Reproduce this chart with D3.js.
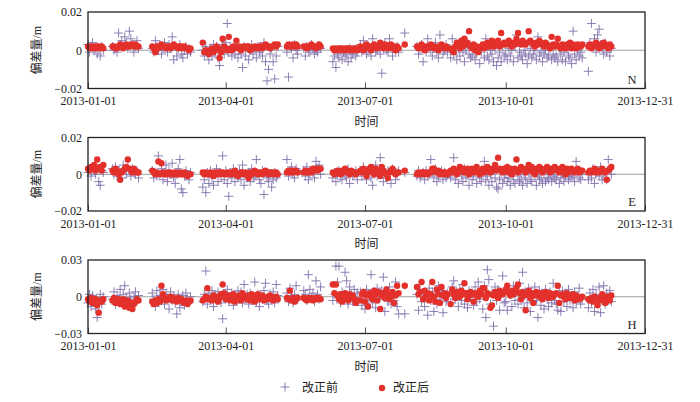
<!DOCTYPE html>
<html>
<head>
<meta charset="utf-8">
<script src="https://cdn.jsdelivr.net/npm/d3@7"></script>
<style>
  body { margin: 0; background: #fff; }
  text { font-family: "Liberation Serif", "Times New Roman", "Noto Sans CJK SC", serif; fill: #222; }
</style>
</head>
<body>
<div class="canvas"></div>
<script>
// observation days (day of year, 0 = 2013-01-01) where each segment starts
const segStarts = [0, 16, 42, 75, 130, 141, 160, 178, 207, 215, 237, 327];

// values in mm, one per day inside each segment
const nBefore = [
  [3,-1,2,4,0,1,-2,1,-3,2,0],
  [2,0,1,-1,9,3,5,2,7,4,1,10,6,3,-1,2,5,1],
  [1,-1,5,2,0,3,-2,1,4,2,-1,3,1,7,-5,2,-3,1,3,-2,-4,0,2,-2,1,-1],
  [0,-3,2,-2,-5,1,-3,3,-1,2,-4,-8,1,3,-2,4,14,-1,2,-3,1,-2,3,-4,0,-2,-9,2,-3,1,-5,0,3,-2,1,-4,2,-1,0,-3,4,-6,-16,-10,-2,1,-6,-15,-3,2],
  [-1,-14,2,1,-4,3,0,-2],
  [1,-3,2,0,-1,3,1,-2,0,-1,2,1],
  [-6,-3,-9,-2,-4,0,-5,-1,-3,-2,-6,1,-4,-2,0,-3,-1],
  [3,-1,5,2,-2,0,1,-3,6,2,-1,0,3,-2,-12,1,4,0,-1,6,2,-3,1,0,2,-1],
  [9],
  [2,-2,0,3,-6,1,-1,6,2,0,-3,1,4,-1,-4,8,2,-2,0,3,-1],
  [-4,6,-2,0,-5,1,-3,2,-1,-6,0,3,-2,-4,
   -3,1,-5,-2,0,-7,-1,2,-4,6,-3,-5,0,-2,-6,1,-8,-4,-1,-6,2,-3,
   -2,-5,1,-3,0,-6,2,8,-4,-1,-3,-5,0,-2,-7,-3,1,-4,-2,0,-5,7,-3,-1,-6,-2,0,-4,-3,1,-5,-2,-4,
   -3,-6,1,-2,-5,-1,-6,0,-3,-4,-7,10,-2,-5,0,-3,-1,-4],
  [-11,4,14,2,6,-1,8,11,3,1,-2,4,-1,2,-3,1]
];
const nAfter = [
  [2,1,2,1,2,1,2,2,1,2,1],
  [2,2,1,1,2,3,2,1,2,3,2,2,3,3,2,3,2,2],
  [2,1,-1,2,1,2,3,2,2,1,2,2,1,2,3,2,2,1,2,2,1,2,1,1,0,1],
  [4,-1,0,-1,-2,0,1,-1,0,2,1,-4,-1,6,2,1,0,7,1,0,2,1,5,1,2,0,1,2,1,2,2,0,1,1,2,1,1,2,2,1,2,3,2,2,1,2,2,3,2,3],
  [2,3,2,2,3,2,3,2],
  [2,2,1,2,2,3,2,2,1,2,3,2],
  [1,0,1,0,1,1,0,1,0,1,1,0,1,0,1,1,0],
  [2,1,0,2,3,1,2,0,1,3,2,1,2,4,2,1,3,2,1,2,3,1,2,0,2,1],
  [3],
  [2,1,2,3,1,0,2,1,2,3,2,1,2,1,0,2,3,2,1,2,1],
  [1,0,-1,2,4,3,1,5,2,6,3,4,10,2,
   1,3,0,2,-1,1,2,3,1,2,4,2,3,5,2,4,3,5,2,9,3,4,
   3,4,5,3,2,4,3,6,9,4,3,5,4,3,4,10,5,4,3,2,4,3,5,4,3,2,4,3,2,1,7,3,2,
   3,6,2,1,3,2,1,3,2,4,1,3,2,1,3,2,2,3],
  [2,3,1,2,3,4,2,1,3,2,4,3,2,1,3,2]
];
const eBefore = [
  [1,3,-1,4,2,0,3,-4,-6,2,1],
  [3,0,4,-1,2,1,-2,5,3,0,4,2,-1,3,1,0,2,-2],
  [2,-2,1,-1,10,0,3,-3,1,5,-4,2,0,6,-2,-5,1,3,8,-8,-10,-1,2,0,-3,1],
  [-7,-3,-10,1,-5,2,-2,-6,0,3,-4,1,-1,10,-3,2,-5,-12,0,-2,3,-4,1,-1,2,-3,5,-6,0,-2,1,-4,3,-2,-1,8,0,-3,-5,2,-11,1,-2,-4,0,-7,-3,1,-2,0],
  [8,-1,2,4,0,-2,3,1],
  [2,-1,4,-3,0,2,1,-2,7,3,5,0],
  [-2,1,-4,0,2,-1,-3,1,0,-2,3,-5,1,-1,0,2,-3],
  [2,-1,4,0,-3,1,3,-2,-6,2,5,-1,0,9,3,-4,1,-2,2,0,-5,3,1,-3,0,2],
  [1],
  [-1,2,-2,0,1,-3,2,-1,0,8,1,-2,3,-4,-1,0,2,-3,1,-2,0],
  [-2,1,9,-3,0,-5,2,-1,-4,3,-2,0,-6,1,
   -3,-1,2,-5,0,-2,-4,1,7,-3,-1,-6,0,-4,2,-2,-7,-8,-3,1,-5,-2,
   0,-4,-2,-6,1,-3,-5,2,-1,-4,-3,-6,0,-2,-5,1,-3,-4,2,-1,-6,0,-3,-2,-5,1,-4,-2,-3,0,-4,-1,-2,
   -3,1,-5,-2,0,-4,-1,2,-3,-2,0,-1,-4,7,1,-2,-3,0],
  [-3,1,-2,3,-5,0,2,-1,4,-3,1,-2,-3,8,3,0]
];
const eAfter = [
  [3,2,4,3,5,2,8,3,4,2,5],
  [2,1,3,2,0,-3,1,2,3,4,8,3,2,1,3,2,1,1],
  [2,1,0,1,7,0,6,1,0,0,1,0,1,0,0,1,0,0,1,0,0,1,0,-1,0,0],
  [1,0,1,0,0,1,0,-1,1,0,1,0,1,1,0,0,1,0,1,0,1,2,0,-1,0,1,1,0,1,0,-2,1,0,1,2,1,0,1,1,0,1,2,1,0,1,1,0,1,1,0],
  [1,2,1,2,1,2,2,1],
  [1,2,1,1,2,1,3,2,3,2,3,3],
  [1,0,1,2,1,0,2,1,3,2,1,0,2,1,1,0,1],
  [2,1,3,2,-1,1,3,4,2,0,3,1,2,-1,4,2,1,0,-2,1,2,3,1,0,1,1],
  [2],
  [0,1,0,1,1,0,1,0,1,1,3,3,2,1,2,0,1,1,0,1,0],
  [2,1,3,2,0,1,4,2,3,1,2,3,0,2,
   3,1,2,4,1,0,2,3,1,2,4,3,1,2,3,5,2,9,3,2,1,3,
   2,4,1,3,0,2,3,8,1,2,4,3,2,1,3,5,2,4,1,0,3,2,4,3,1,2,3,4,2,1,3,2,4,
   3,2,1,3,4,2,0,3,1,2,3,2,1,2,3,1,2,2],
  [1,2,1,2,3,1,2,1,2,3,2,1,-3,2,3,4]
];
const hBefore = [
  [-5,2,-8,1,-3,-10,-17,-4,2,-6,0],
  [-2,4,-6,1,-3,6,-4,2,9,-1,-5,3,-2,-7,0,4,-3,1],
  [3,-2,-8,5,-4,1,-3,6,-6,2,-1,-10,4,-3,0,-5,-14,2,-9,-4,1,-7,3,-2,-5,0],
  [-4,2,21,-6,3,-2,5,-8,1,-3,4,-1,-5,-18,2,-2,6,-4,0,3,-7,1,-3,5,-2,4,-5,10,-1,2,-6,3,-3,0,12,-4,2,-8,1,-2,5,11,-3,-6,2,-1,4,-5,10,1],
  [3,-4,7,1,-5,2,9,-2],
  [5,2,-3,18,6,-1,3,-4,13,2,-2,8],
  [-3,2,25,12,25,-5,4,-2,20,13,-6,8,2,-4,6,-1,3],
  [4,-7,2,-10,6,-3,1,18,-5,3,-9,7,-2,0,5,16,-12,2,-4,8,-6,1,-3,12,-8,-14],
  [-14],
  [2,-11,6,-4,3,-8,1,-15,7,-3,4,-12,2,-6,9,-2,5,-13,0,-4,3],
  [-5,8,13,-2,4,-8,6,-3,10,-6,2,-9,5,-1,
   3,-7,8,-4,12,-2,5,-10,9,-17,22,14,-6,3,-24,8,-3,6,-11,2,17,-5,
   -4,-11,6,2,-8,9,-3,4,-6,11,-2,20,-9,3,-5,7,-12,1,-4,8,-3,-17,5,-7,2,-10,6,-2,-8,4,-5,11,-3,
   -6,-11,3,-12,5,-4,2,-8,6,-3,1,-9,4,-5,0,7,-6,-2],
  [-9,3,-5,6,-12,2,-4,8,-13,1,9,-6,3,-2,5,-4]
];
const hAfter = [
  [-2,-4,-1,-5,-3,-2,-7,-13,-3,-4,-2],
  [-3,-1,-5,-4,-2,-6,-3,-2,-8,-4,-3,-9,-5,-10,-6,-4,-2,-3],
  [-4,-6,-3,-5,-2,-4,9,2,-1,-3,-2,-1,0,-3,-1,-2,-4,-1,-3,-2,-4,-5,-3,-6,-4,-3],
  [-3,-2,0,7,-2,-1,-3,1,-2,0,-4,-1,2,10,3,-2,0,1,-3,-1,2,-4,0,-2,1,-3,3,-1,0,-2,1,-3,2,0,-4,-1,2,-2,0,1,-3,-1,-2,0,1,-2,-3,-1,0,-2],
  [-1,-2,5,-3,-1,-4,-2,-1],
  [-1,-2,-3,-1,-2,-1,-3,-2,-1,-2,-1,-2],
  [10,3,10,1,-2,2,-4,0,3,1,-3,2,-1,1,-2,-5,-3],
  [-3,2,4,-4,1,-8,3,0,-2,5,2,-3,4,-10,1,3,-1,6,2,-2,0,4,-5,1,9,3],
  [9],
  [8,2,4,12,-2,5,1,3,-3,2,12,0,-4,6,2,-5,8,1,3,-1,2],
  [-6,6,2,-1,4,3,0,5,2,11,3,-2,1,4,
   2,-4,3,1,0,5,2,7,7,-1,3,2,-9,-7,1,4,2,-1,5,3,2,4,
   6,9,3,1,5,2,4,7,10,3,-2,4,1,-11,2,5,-1,3,-5,1,4,2,0,3,-2,1,4,2,-1,3,1,0,2,
   3,9,-5,1,2,0,-2,3,1,-1,0,2,-3,1,0,-2,-1,0],
  [-2,-3,-1,-4,0,-2,-7,-1,-3,2,-2,-5,0,-1,-3,1]
];

const dateTicks = ['2013-01-01', '2013-04-01', '2013-07-01', '2013-10-01', '2013-12-31'];
const ticksNE = [-0.02, 0, 0.02];
const ticksH = [-0.03, 0, 0.03];
const panelNames = ['N', 'E', 'H'];

const parse = d3.timeParse('%Y-%m-%d');
const startDate = parse('2013-01-01');

const svg = d3.select('.canvas')
    .append('svg')
    .attr('width', 700)
    .attr('height', 402)

const x = d3.scaleTime()
    .domain([parse(dateTicks[0]), parse(dateTicks[dateTicks.length - 1])])
    .range([88, 645])

const panels = [
    { name: panelNames[0], top: 12, bottom: 88.5, ticks: ticksNE, before: nBefore, after: nAfter },
    { name: panelNames[1], top: 137.5, bottom: 211, ticks: ticksNE, before: eBefore, after: eAfter },
    { name: panelNames[2], top: 260, bottom: 333.5, ticks: ticksH, before: hBefore, after: hAfter }
];

const toPoints = (series) => series.flatMap((seg, i) =>
    seg.map((v, j) => ({ date: d3.timeDay.offset(startDate, segStarts[i] + j), value: v / 1000 })));

const fmt = d => d === 0 ? '0' : (d < 0 ? '\u2212' : '') + Math.abs(d).toFixed(2);

const crossPath = (cx, cy, s) => `M${cx - s},${cy}H${cx + s}M${cx},${cy - s}V${cy + s}`;

panels.forEach(p => {
    const lim = d3.max(p.ticks);
    const y = d3.scaleLinear().domain([-lim, lim]).range([p.bottom, p.top]);
    const g = svg.append('g');

    // zero line
    g.append('line')
        .attr('x1', x.range()[0]).attr('x2', x.range()[1])
        .attr('y1', y(0)).attr('y2', y(0))
        .attr('stroke', '#a0a0a0').attr('stroke-width', 1)

    // before correction: crosses
    g.append('g').selectAll('path')
        .data(toPoints(p.before))
        .enter().append('path')
            .attr('d', d => crossPath(x(d.date), y(d.value), 4.5))
            .attr('stroke', '#8070ab')
            .attr('stroke-width', 0.9)
            .attr('fill', 'none')

    // after correction: red dots
    g.append('g').selectAll('circle')
        .data(toPoints(p.after))
        .enter().append('circle')
            .attr('cx', d => x(d.date))
            .attr('cy', d => y(d.value))
            .attr('r', 3.2)
            .attr('fill', '#e3302b')

    // x axis, ticks inside the frame
    const xAxis = d3.axisBottom(x)
        .tickValues(dateTicks.map(parse))
        .tickSize(-6)
        .tickPadding(8)
        .tickFormat(d3.timeFormat('%Y-%m-%d'))
    const xg = g.append('g')
        .attr('transform', `translate(0, ${p.bottom})`)
        .call(xAxis)
    xg.select('.domain').remove();
    xg.selectAll('line').attr('stroke', '#555');
    xg.selectAll('text').attr('font-size', 12).attr('fill', '#222')
        .style('font-family', '"Liberation Serif", "Times New Roman", serif');

    // y axis
    const yAxis = d3.axisLeft(y)
        .tickValues(p.ticks)
        .tickSize(0)
        .tickPadding(6)
        .tickFormat(fmt)
    const yg = g.append('g')
        .attr('transform', `translate(${x.range()[0]}, 0)`)
        .call(yAxis)
    yg.select('.domain').remove();
    yg.selectAll('text').attr('font-size', 12).attr('fill', '#222')
        .style('font-family', '"Liberation Serif", "Times New Roman", serif');

    // frame
    g.append('rect')
        .attr('x', x.range()[0]).attr('y', p.top)
        .attr('width', x.range()[1] - x.range()[0])
        .attr('height', p.bottom - p.top)
        .attr('fill', 'none')
        .attr('stroke', '#222')
        .attr('stroke-width', 1.3)

    // component letter
    g.append('text')
        .attr('x', x.range()[1] - 13).attr('y', p.bottom - 5)
        .attr('text-anchor', 'middle')
        .attr('font-size', 12.5)
        .text(p.name)

    // y title
    g.append('text')
        .attr('transform', `translate(41, ${(p.top + p.bottom) / 2}) rotate(-90)`)
        .attr('text-anchor', 'middle')
        .attr('font-size', 12)
        .text('偏差量/m')

    // x title
    g.append('text')
        .attr('x', (x.range()[0] + x.range()[1]) / 2)
        .attr('y', p.bottom + 37)
        .attr('text-anchor', 'middle')
        .attr('font-size', 12)
        .text('时间')
})

// legend
const legend = svg.append('g')
legend.append('path')
    .attr('d', crossPath(285, 387, 4.5))
    .attr('stroke', '#8070ab').attr('stroke-width', 0.9)
legend.append('text')
    .attr('x', 302).attr('y', 391.5)
    .attr('font-size', 12)
    .text('改正前')
legend.append('circle')
    .attr('cx', 382).attr('cy', 388).attr('r', 3.2)
    .attr('fill', '#e3302b')
legend.append('text')
    .attr('x', 393).attr('y', 391.5)
    .attr('font-size', 12)
    .text('改正后')
</script>
</body>
</html>
